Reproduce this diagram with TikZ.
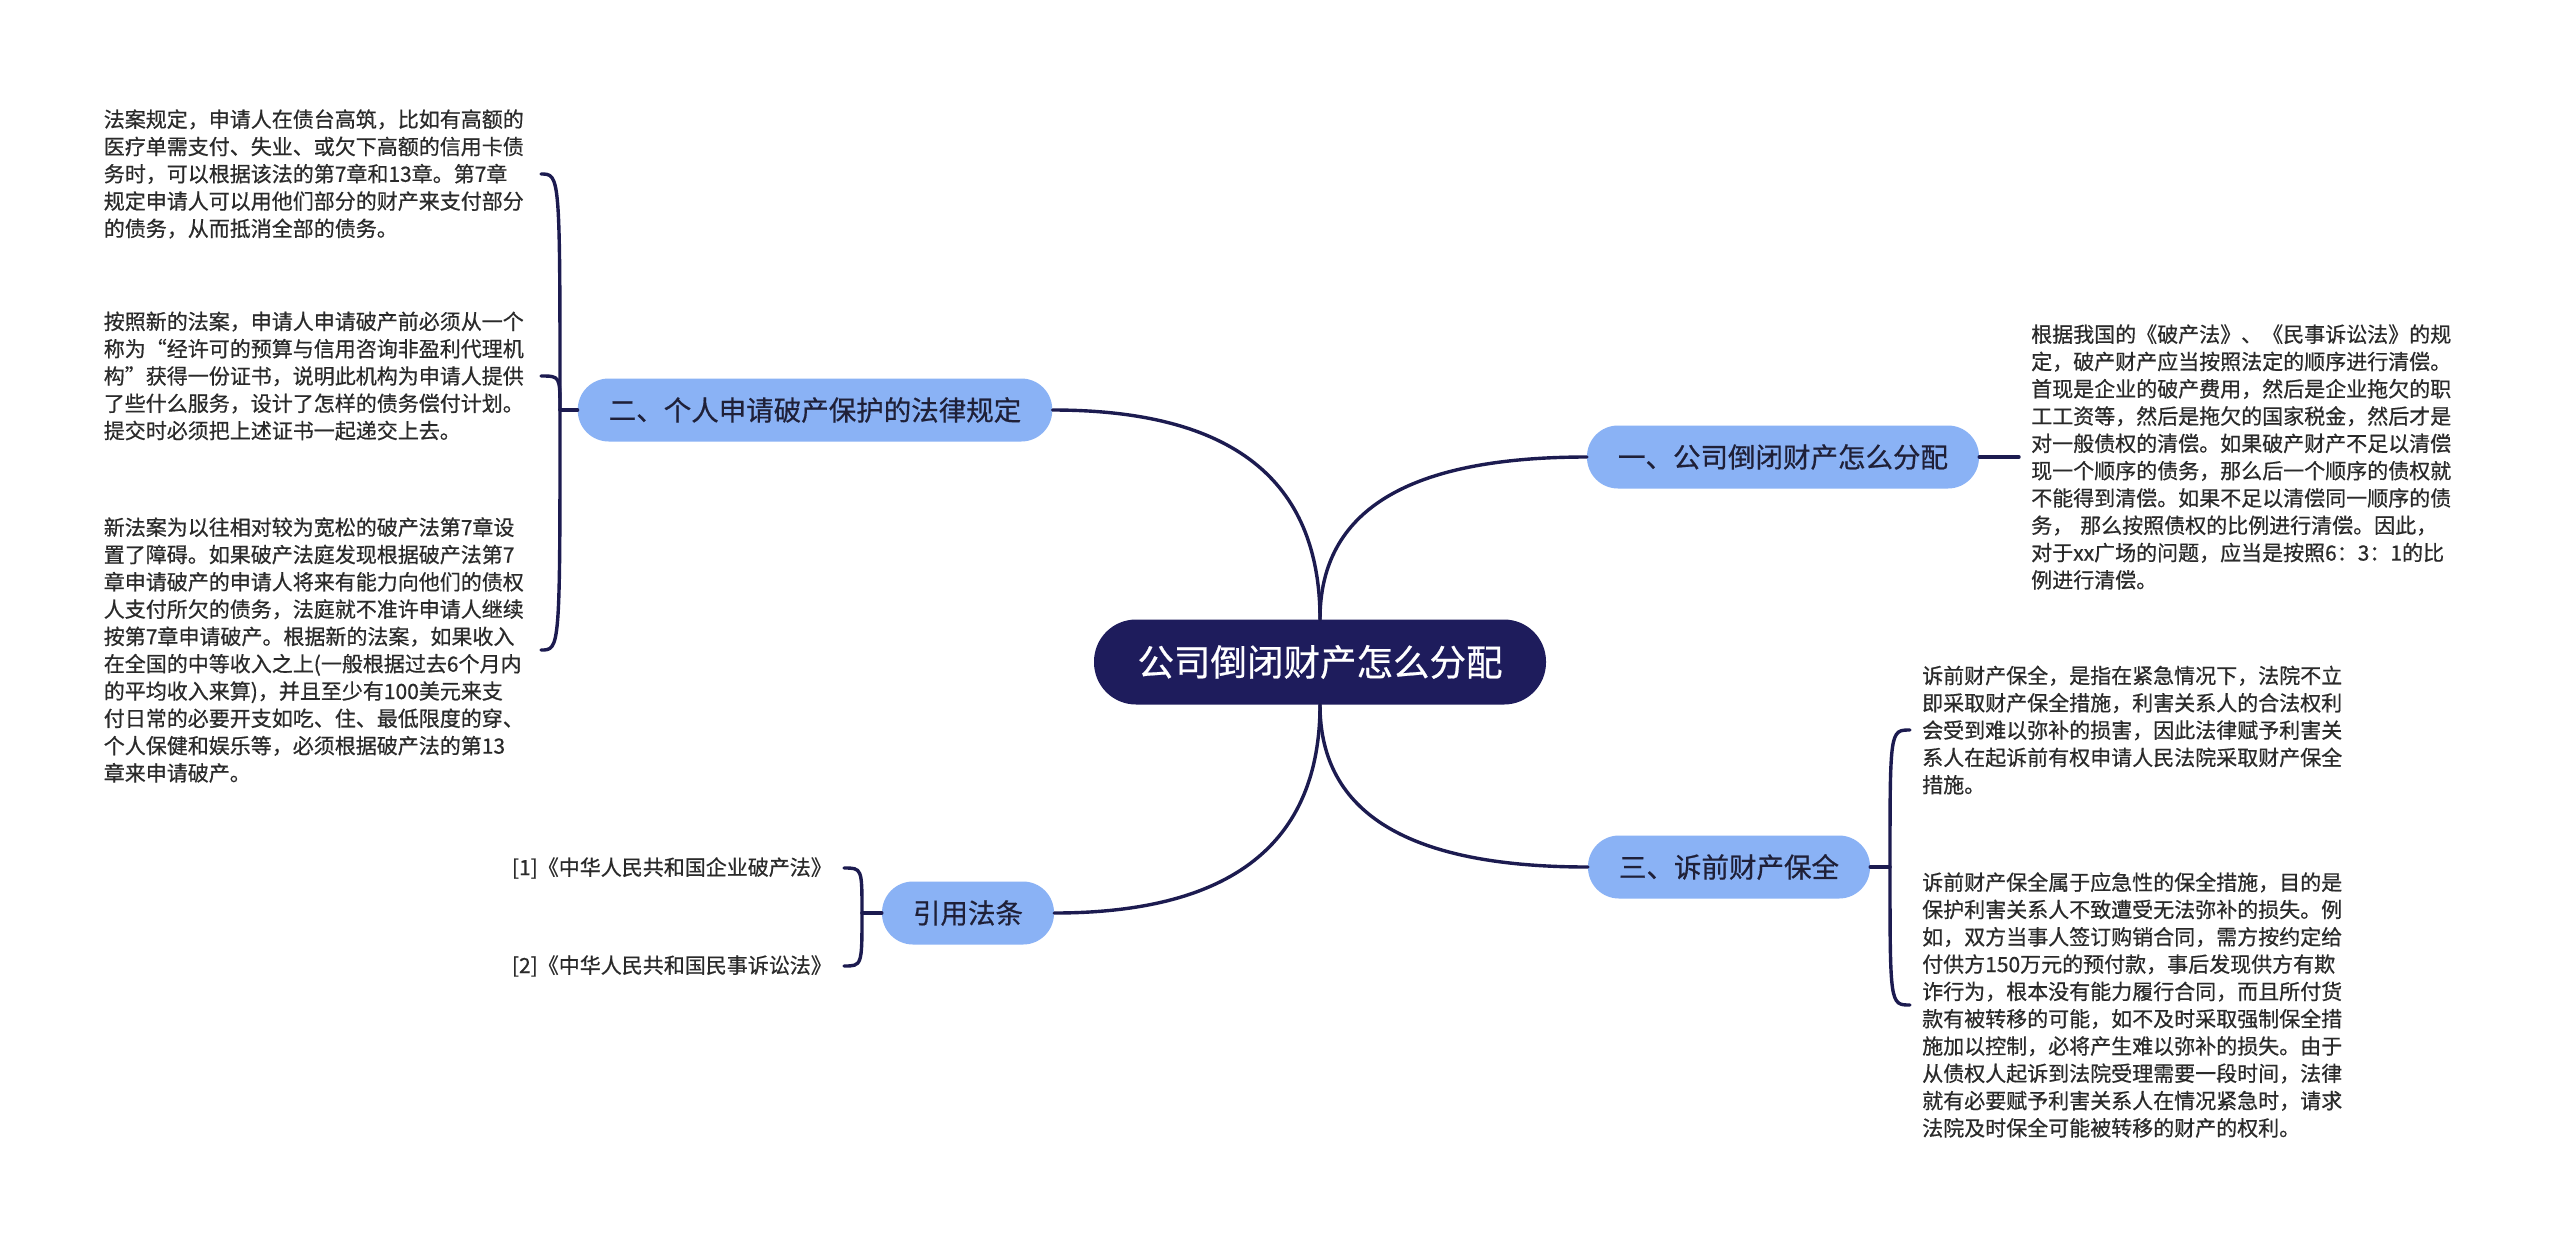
\documentclass[tikz,border=0pt]{standalone}
\usepackage{fontspec}
\newfontfamily\cjk[FakeBold=0.6]{Noto Sans CJK SC}
\definecolor{rootnavy}{HTML}{1E1C5C}
\definecolor{linknavy}{HTML}{1C1B50}
\definecolor{branchblue}{HTML}{8AB2F5}
\definecolor{branchtext}{HTML}{1F2038}
\definecolor{leaftext}{HTML}{2A2A2A}

\begin{document}
\begin{tikzpicture}[
    x=1pt, y=-1pt,
    root/.style={
        rectangle, rounded corners=42pt, fill=rootnavy, text=white,
        minimum width=452pt, minimum height=85pt, inner sep=0pt,
        font=\cjk\fontsize{36.5}{36.5}\selectfont
    },
    branch/.style={
        rectangle, rounded corners=31pt, fill=branchblue, text=branchtext,
        minimum height=63pt, inner xsep=31pt, inner ysep=0pt,
        font=\cjk\fontsize{27.5}{27.5}\selectfont
    },
    leaf/.style={
        text=leaftext, align=left, inner xsep=12pt, inner ysep=0pt,
        font=\cjk\fontsize{21}{27.3}\selectfont
    },
    leafbox/.style={leaf, text width=425pt},
    link/.style={draw=linknavy, line width=3.4pt, line cap=round},
]
\useasboundingbox[fill=white] (0,0) rectangle (2560,1243);

% ── Root and main branches ───────────────────────────────────
\node[root]   (root) at (1320, 662) {公司倒闭财产怎么分配};
\node[branch] (b1)   at (1783, 457) {一、公司倒闭财产怎么分配};
\node[branch] (b2)   at (815, 410)  {二、个人申请破产保护的法律规定};
\node[branch] (b3)   at (1729, 867) {三、诉前财产保全};
\node[branch] (b4)   at (968, 913)  {引用法条};

% ── Root curves ──────────────────────────────────────────────
\draw[link] (root.north) .. controls +(0,-109) and +(-179,0) .. (b1.west);
\draw[link] (root.north) .. controls +(0,-140) and +(179,0) .. (b2.east);
\draw[link] (root.south) .. controls +(0,109) and +(-179,0) .. (b3.west);
\draw[link] (root.south) .. controls +(0,139) and +(177,0) .. (b4.east);

% ── Branch one ───────────────────────────────────────────────
\node[leafbox, anchor=west] (r1) at (2019, 457) {
    根据我国的《破产法》、《民事诉讼法》的规\\
    定，破产财产应当按照法定的顺序进行清偿。\\
    首现是企业的破产费用，然后是企业拖欠的职\\
    工工资等，然后是拖欠的国家税金，然后才是\\
    对一般债权的清偿。如果破产财产不足以清偿\\
    现一个顺序的债务，那么后一个顺序的债权就\\
    不能得到清偿。如果不足以清偿同一顺序的债\\
    务， 那么按照债权的比例进行清偿。因此，\\
    对于xx广场的问题，应当是按照6：3：1的比\\
    例进行清偿。
};
\draw[link] (b1.east) -- (r1.west);

% ── Branch two ───────────────────────────────────────────────
\node[leafbox, anchor=east] (l1) at (541, 174) {
    法案规定，申请人在债台高筑，比如有高额的\\
    医疗单需支付、失业、或欠下高额的信用卡债\\
    务时，可以根据该法的第7章和13章。第7章\\
    规定申请人可以用他们部分的财产来支付部分\\
    的债务，从而抵消全部的债务。
};
\node[leafbox, anchor=east] (l2) at (541, 376) {
    按照新的法案，申请人申请破产前必须从一个\\
    称为“经许可的预算与信用咨询非盈利代理机\\
    构”获得一份证书，说明此机构为申请人提供\\
    了些什么服务，设计了怎样的债务偿付计划。\\
    提交时必须把上述证书一起递交上去。
};
\node[leafbox, anchor=east] (l3) at (541, 650) {
    新法案为以往相对较为宽松的破产法第7章设\\
    置了障碍。如果破产法庭发现根据破产法第7\\
    章申请破产的申请人将来有能力向他们的债权\\
    人支付所欠的债务，法庭就不准许申请人继续\\
    按第7章申请破产。根据新的法案，如果收入\\
    在全国的中等收入之上(一般根据过去6个月内\\
    的平均收入来算)，并且至少有100美元来支\\
    付日常的必要开支如吃、住、最低限度的穿、\\
    个人保健和娱乐等，必须根据破产法的第13\\
    章来申请破产。
};
\coordinate (j2) at (560, 410);
\draw[link] (b2.west) -- (j2);
\draw[link] (j2) .. controls (j2 |- l1.east) .. (l1.east);
\draw[link] (j2) .. controls (j2 |- l2.east) .. (l2.east);
\draw[link] (j2) .. controls (j2 |- l3.east) .. (l3.east);

% ── Branch three ─────────────────────────────────────────────
\node[leafbox, anchor=west] (r2) at (1910, 730) {
    诉前财产保全，是指在紧急情况下，法院不立\\
    即采取财产保全措施，利害关系人的合法权利\\
    会受到难以弥补的损害，因此法律赋予利害关\\
    系人在起诉前有权申请人民法院采取财产保全\\
    措施。
};
\node[leafbox, anchor=west] (r3) at (1910, 1005) {
    诉前财产保全属于应急性的保全措施，目的是\\
    保护利害关系人不致遭受无法弥补的损失。例\\
    如，双方当事人签订购销合同，需方按约定给\\
    付供方150万元的预付款，事后发现供方有欺\\
    诈行为，根本没有能力履行合同，而且所付货\\
    款有被转移的可能，如不及时采取强制保全措\\
    施加以控制，必将产生难以弥补的损失。由于\\
    从债权人起诉到法院受理需要一段时间，法律\\
    就有必要赋予利害关系人在情况紧急时，请求\\
    法院及时保全可能被转移的财产的权利。
};
\coordinate (j3) at (1890, 867);
\draw[link] (b3.east) -- (j3);
\draw[link] (j3) .. controls (j3 |- r2.west) .. (r2.west);
\draw[link] (j3) .. controls (j3 |- r3.west) .. (r3.west);

% ── Cited laws ───────────────────────────────────────────────
\node[leaf, anchor=east] (c1) at (844, 868) {[1]《中华人民共和国企业破产法》};
\node[leaf, anchor=east] (c2) at (844, 966) {[2]《中华人民共和国民事诉讼法》};
\coordinate (j4) at (862, 913);
\draw[link] (b4.west) -- (j4);
\draw[link] (j4) .. controls (j4 |- c1.east) .. (c1.east);
\draw[link] (j4) .. controls (j4 |- c2.east) .. (c2.east);

\end{tikzpicture}
\end{document}
